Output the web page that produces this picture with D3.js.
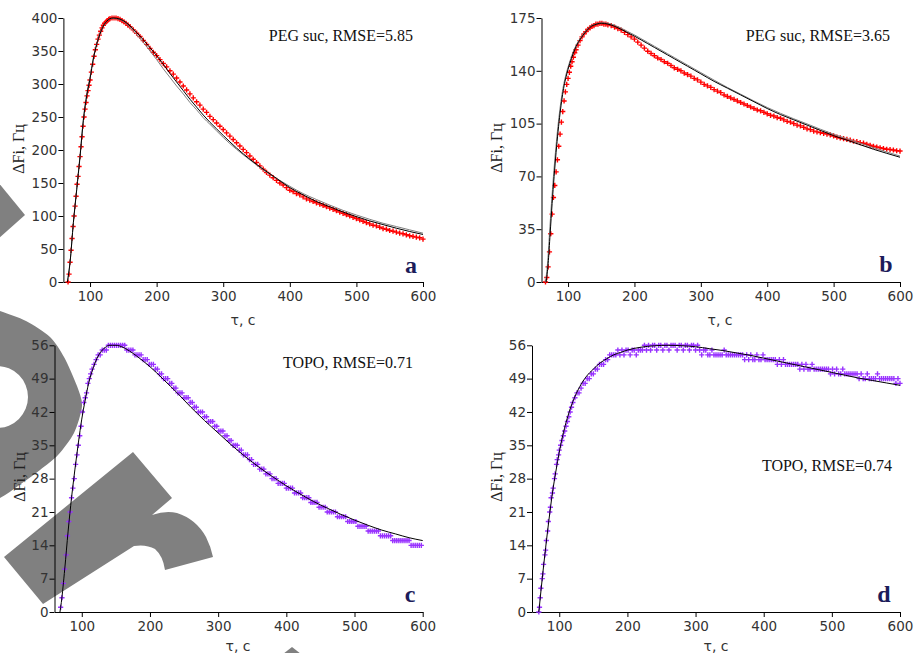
<!DOCTYPE html>
<html>
<head>
<meta charset="utf-8">
<script src="https://cdn.jsdelivr.net/npm/d3@7"></script>
<style>
  html, body { margin: 0; padding: 0; background: #fff; }
  svg { display: block; }
</style>
</head>
<body>
<svg id="chart" width="914" height="653"></svg>
<script>
// ---- tick values ----
const xTicks = [100, 200, 300, 400, 500, 600];
const yTicksA = [0, 50, 100, 150, 200, 250, 300, 350, 400];
const yTicksB = [0, 35, 70, 105, 140, 175];
const yTicksTopo = [0, 7, 14, 21, 28, 35, 42, 49, 56];

// ---- panel a: PEG suc, measured response [time s, ΔF Hz] ----
const measuredA = [
  [67,0],[68.5,12],[70,30],[71.5,48],[73,66],[74.5,84],[76,100],[77.5,115],[79,130],[80.5,148],
  [82,160],[83.5,175],[85,190],[86.5,205],[88,220],[89.5,236],[91,250],[92.5,262],[94,272],[95.5,282],
  [97,290],[98.5,298],[100,306],[102,318],[104,330],[106,342],[108,352],[110,360],[112,368],[114,374],
  [116,380],[118,385],[120,389],[122,392],[124,394],[126,396],[128,398],[130,399],[133,400],[136,400],
  [139,400],[142,399],[145,398],[148,396],[151,394],[154,392],[157,389],[160,387],[165,382],[170,377],
  [175,372],[180,366],[185,360],[190,354],[195,348],[200,343],[205,337],[210,331],[215,326],[220,320],
  [225,315],[230,309],[235,303],[240,297],[245,291],[250,285],[255,279],[260,273],[265,268],[270,262],
  [275,257],[280,251],[285,246],[290,241],[295,236],[300,231],[305,226],[310,221],[315,216],[320,211],
  [325,206],[330,201],[335,196],[340,191],[345,186],[350,181],[355,176],[360,171],[365,166],[370,162],
  [375,158],[380,154],[385,150],[390,147],[395,143],[400,139],[405,137],[410,134],[415,132],[420,129],
  [425,126],[430,124],[435,122],[440,120],[445,118],[450,116],[455,114],[460,112],[465,110],[470,108],
  [475,106],[480,104],[485,102],[490,100],[495,98],[500,96],[505,94],[510,92],[515,90],[520,88],
  [525,86],[530,85],[535,83],[540,81],[545,80],[550,78],[555,77],[560,75.5],[565,74],[570,73],
  [575,71.5],[580,70],[585,69],[590,68],[595,67],[600,65]
];
const fitA = [
  [66,0],[70,30],[75,90],[80,140],[85,190],[90,245],[95,282],[100,308],[105,338],[110,360],
  [115,376],[120,388],[125,395],[130,399],[135,400],[140,399.5],[150,396],[160,388],[170,378],[180,367],
  [190,355],[200,343],[210,330],[220,316],[230,303],[240,290],[250,277],[260,265],[270,253],[280,242],
  [290,232],[300,222],[320,203],[340,186],[360,171],[380,157],[400,143],[420,132],[440,122],[460,114],
  [480,106],[500,99],[520,92.5],[540,87],[560,81.5],[580,76.5],[600,72]
];
const fitGrayA = [
  [66,0],[70,30],[75,90],[80,141],[85,192],[90,247],[95,285],[100,311],[105,340],[110,361],
  [115,377],[120,388],[125,395],[130,398.5],[135,399.5],[140,399],[150,395],[160,386],[170,375],[180,363],
  [190,350],[200,337],[210,323],[220,310],[230,297],[240,285],[250,272],[260,261],[270,249],[280,239],
  [290,229],[300,219],[320,201],[340,185],[360,170],[380,157],[400,145],[420,134],[440,125],[460,116.5],
  [480,108.5],[500,101.5],[520,95],[540,89],[560,84],[580,79],[600,74]
];

// ---- panel b: PEG suc ----
const measuredB = [
  [66,0],[68,3],[70,10],[72,20],[74,32],[76,45],[78,56],[80,64],[82,73],[84,81],
  [86,90],[88,98],[90,106],[92,113],[94,120],[96,126],[98,131],[100,135],[102,139],[104,143],
  [106,146],[108,149],[110,152],[112,154],[115,157],[118,160],[121,162.5],[124,164.5],[127,166],[130,167.5],
  [133,168.5],[136,169.5],[139,170],[142,171],[145,171],[148,171.5],[151,171.5],[154,171],[157,171],[160,170.5],
  [165,170],[170,169],[175,168],[180,167],[185,165.5],[190,164],[195,162.5],[200,161],[205,159],[210,157],
  [215,155],[220,153],[225,151.5],[230,150],[235,148.5],[240,147.5],[245,146],[250,145],[255,143.5],[260,142],
  [265,141],[270,140],[275,138.5],[280,137.5],[285,136.5],[290,135],[295,134],[300,132.5],[305,131],[310,130],
  [315,129],[320,127.5],[325,126.5],[330,125.5],[335,124],[340,123],[345,122],[350,121],[355,120],[360,119],
  [365,118],[370,117],[375,116],[380,115],[385,114],[390,113.5],[395,112.5],[400,111.5],[405,110.5],[410,110],
  [415,109],[420,108.5],[425,107.5],[430,106.5],[435,106],[440,105],[445,104],[450,103.5],[455,102.5],[460,101.5],
  [465,101],[470,100],[475,99.5],[480,99],[485,98.5],[490,98],[495,97.5],[500,96.8],[505,96],[510,95.5],
  [515,95],[520,94.5],[525,94],[530,93.3],[535,93],[540,92.4],[545,92],[550,91.3],[555,90.6],[560,90],
  [565,89.5],[570,89],[575,88.5],[580,88],[585,87.8],[590,87.5],[595,87],[600,86.8]
];
const fitB = [
  [67,0],[70,12],[73,32],[76,52],[79,70],[82,86],[85,100],[88,112],[91,122],[94,130],
  [97,136],[100,141],[105,148],[110,154],[115,158.5],[120,162],[125,165],[130,167.5],[135,169.5],[140,170.5],
  [145,171.2],[150,171.5],[160,171],[170,169.5],[180,167.5],[190,165.2],[200,163],[210,160.5],[220,158],[230,155.5],
  [240,153],[250,150.5],[260,148],[270,145.5],[280,143],[290,140.5],[300,138],[320,133],[340,128.5],[360,124],
  [380,119.5],[400,115],[420,111],[440,107.5],[460,104],[480,100.5],[500,97],[520,94],[540,91],[560,88],
  [580,85.3],[600,82.7]
];
const fitGrayB = [
  [66,0],[69,12],[72,32],[75,52],[78,70],[81,86],[84,100],[87,112],[90,122],[93,130],
  [96,136],[99,141],[104,148],[109,154],[114,158.5],[119,162],[124,165],[129,167.5],[134,169.5],[139,170.5],
  [144,171.2],[150,171.8],[160,171.5],[170,170.2],[180,168.3],[190,166],[200,163.8],[210,161.3],[220,158.8],[230,156.3],
  [240,153.8],[250,151.3],[260,148.8],[270,146.3],[280,143.8],[290,141.3],[300,138.8],[320,133.8],[340,129],[360,124.5],
  [380,120],[400,115.7],[420,111.8],[440,108.2],[460,104.8],[480,101.3],[500,98],[520,95],[540,92],[560,89],
  [580,86.2],[600,83.5]
];

// ---- panel c: TOPO ----
const measuredC = [
  [69,1],[71,3],[73,6],[75,9],[77,12],[79,16],[81,19],[83,21],[85,24],[87,26],
  [89,28],[91,31],[93,33],[95,35],[97,37],[99,39],[101,42],[103,44],[105,45],[107,46],
  [109,48],[111,49],[113,50],[115,51],[118,52],[121,53],[124,54],[127,54],[130,55],[133,55],
  [136,55],[139,56],[142,56],[145,56],[148,56],[151,56],[154,56],[157,56],[160,56],[163,56],
  [166,55],[169,55],[172,55],[175,55],[178,54],[181,54],[184,54],[187,54],[190,53],[193,53],
  [196,53],[199,52],[202,52],[205,52],[208,51],[211,51],[214,50],[217,50],[220,49],[223,49],
  [226,49],[229,48],[232,48],[235,47],[238,47],[241,46],[244,46],[247,46],[250,45],[253,45],
  [256,45],[259,44],[262,44],[265,43],[268,43],[271,42],[274,42],[277,42],[280,41],[283,41],
  [286,40],[289,40],[292,40],[295,39],[298,39],[301,38],[304,38],[307,38],[310,37],[313,37],
  [316,36],[319,36],[322,35],[325,35],[328,35],[331,34],[334,34],[337,33],[340,33],[343,33],
  [346,32],[349,32],[352,31],[355,31],[358,31],[361,30],[364,30],[367,30],[370,29],[373,29],
  [376,29],[379,28],[382,28],[385,28],[388,27],[391,27],[394,27],[397,27],[400,26],[403,26],
  [406,26],[409,26],[412,25],[415,25],[418,25],[421,25],[424,24],[427,24],[430,24],[433,24],
  [436,23],[439,23],[442,23],[445,23],[448,22],[451,22],[454,22],[457,22],[460,21],[463,21],
  [466,21],[469,21],[472,21],[475,20],[478,20],[481,20],[484,20],[487,20],[490,19],[493,19],
  [496,19],[499,19],[502,19],[505,18],[508,18],[511,18],[514,18],[517,18],[520,17],[523,17],
  [526,17],[529,17],[532,17],[535,17],[538,16],[541,16],[544,16],[547,16],[550,16],[553,16],
  [556,15],[559,15],[562,15],[565,15],[568,15],[571,15],[574,15],[577,15],[580,15],[583,14],
  [586,14],[589,14],[592,14],[595,14],[598,14]
];
const fitC = [
  [68,0],[70,2],[75,9],[80,17],[85,24],[90,30],[95,35.5],[100,40.5],[105,44.5],[110,48],
  [115,50.5],[120,52.5],[125,54],[130,55],[135,55.6],[140,56],[145,56],[150,56],[160,55.6],[170,54.8],
  [180,53.8],[190,52.7],[200,51.5],[210,50.2],[220,48.8],[230,47.4],[240,46],[250,44.5],[260,43],[270,41.6],
  [280,40.2],[290,38.9],[300,37.6],[320,35],[340,32.6],[360,30.4],[380,28.4],[400,26.5],[420,24.8],[440,23.2],
  [460,21.8],[480,20.5],[500,19.3],[520,18.2],[540,17.2],[560,16.4],[580,15.6],[600,15]
];

// ---- panel d: TOPO ----
const measuredD = [
  [70,0],[71,1],[72,3],[73,5],[75,7],[76,8],[77,10],[79,12],[80,13],[81,15],
  [83,17],[84,19],[86,21],[87,22],[88,24],[90,25],[91,26],[93,28],[94,29],[96,31],
  [97,32],[99,33],[100,34],[102,35],[104,36],[106,37],[108,38],[110,39],[112,40],[114,41],
  [116,42],[118,43],[120,44],[123,45],[126,46],[129,46],[132,47],[135,48],[138,48],[141,49],
  [144,49],[147,50],[150,50],[153,51],[156,51],[159,52],[162,52],[165,52],[168,53],[171,53],
  [174,54],[177,54],[180,54],[183,54],[186,55],[189,54],[192,55],[195,54],[198,55],[201,55],
  [204,54],[207,55],[210,55],[213,54],[216,55],[219,55],[222,55],[225,56],[228,55],[231,56],
  [234,55],[237,56],[240,56],[243,55],[246,56],[249,56],[252,55],[255,56],[258,56],[261,55],
  [264,56],[267,56],[270,56],[273,55],[276,56],[279,56],[282,55],[285,56],[288,56],[291,55],
  [294,56],[297,56],[300,55],[303,56],[306,55],[309,54],[312,55],[315,55],[318,54],[321,54],
  [324,55],[327,54],[330,54],[333,54],[336,54],[339,54],[342,55],[345,54],[348,54],[351,54],
  [354,54],[357,54],[360,54],[363,54],[366,54],[369,54],[372,53],[375,54],[378,53],[381,54],
  [384,53],[387,53],[390,54],[393,53],[396,53],[399,54],[402,53],[405,53],[408,53],[411,53],
  [414,53],[417,53],[420,52],[423,53],[426,52],[429,53],[432,52],[435,52],[438,52],[441,52],
  [444,52],[447,52],[450,52],[453,51],[456,52],[459,51],[462,52],[465,51],[468,51],[471,52],
  [474,51],[477,51],[480,51],[483,51],[486,51],[489,51],[492,51],[495,51],[498,50],[501,51],
  [504,50],[507,51],[510,50],[513,50],[516,51],[519,50],[522,50],[525,50],[528,50],[531,50],
  [534,50],[537,50],[540,49],[543,50],[546,49],[549,49],[552,50],[555,49],[558,49],[561,49],
  [564,49],[567,50],[570,49],[573,49],[576,49],[579,49],[582,49],[585,49],[588,49],[591,49],
  [594,48],[597,49],[600,48]
];
const fitD = [
  [70,0],[75,7],[80,13.5],[85,19.5],[90,25],[95,29.5],[100,33.5],[105,37],[110,39.8],[115,42.2],
  [120,44.2],[130,47.3],[140,49.5],[150,51],[160,52.3],[170,53.2],[180,54],[190,54.5],[200,55],[220,55.6],
  [240,55.9],[260,56],[280,55.9],[300,55.7],[320,55.3],[340,54.9],[360,54.4],[380,53.9],[400,53.3],[420,52.7],
  [440,52.1],[460,51.5],[480,50.9],[500,50.3],[520,49.7],[540,49.1],[560,48.6],[580,48.1],[600,47.6]
];

// ---- panel layout (pixel frames) and styling ----
const panels = [
  { letter: "a", note: "PEG suc, RMSE=5.85", measured: measuredA, fits: [fitGrayA, fitA], yMax: 400, yTicks: yTicksA,
    color: "#ff0000", left: 63.4, right: 423, top: 18, bottom: 282,
    noteX: 413, noteY: 41, letterX: 411, letterY: 273, yTitleX: 24, yTitleY: 149, xTitleX: 243, xTitleY: 325 },
  { letter: "b", note: "PEG suc, RMSE=3.65", measured: measuredB, fits: [fitGrayB, fitB], yMax: 175, yTicks: yTicksB,
    color: "#ff0000", left: 541.5, right: 900, top: 18, bottom: 282,
    noteX: 890, noteY: 41, letterX: 886, letterY: 272, yTitleX: 502, yTitleY: 148, xTitleX: 720, xTitleY: 325 },
  { letter: "c", note: "TOPO, RMSE=0.71", measured: measuredC, fits: [fitC], yMax: 56, yTicks: yTicksTopo,
    color: "#9933ff", left: 54.5, right: 422.7, top: 345.3, bottom: 612,
    noteX: 413, noteY: 368, letterX: 410, letterY: 602, yTitleX: 25, yTitleY: 477, xTitleX: 238, xTitleY: 651 },
  { letter: "d", note: "TOPO, RMSE=0.74", measured: measuredD, fits: [fitD], yMax: 56, yTicks: yTicksTopo,
    color: "#9933ff", left: 532, right: 900, top: 345.3, bottom: 612,
    noteX: 892, noteY: 471, letterX: 884, letterY: 602, yTitleX: 502, yTitleY: 477, xTitleX: 716, xTitleY: 651 }
];

const svg = d3.select("#chart");
svg.append("rect").attr("width", 914).attr("height", 653).attr("fill", "#fff");

// ---- grey background emblem on the left edge ----
const emblem = svg.append("g").attr("fill", "#808080").attr("stroke", "none");
emblem.append("path").attr("d", "M-2,182 L25,215 L-2,239 Z");
const ringOuter = [[-30,300],[0,311],[26,321],[50,337],[64,357],[77,386],[82,406],[74,433],[58,455],[40,470],[18,486],[0,498],[-30,510],[-50,405]];
const ringPath = d3.line().curve(d3.curveCardinalClosed.tension(0.2))(ringOuter);
const hole = d3.path();
hole.moveTo(28, 397);
hole.arc(-3, 397, 31, 0, Math.PI * 2);
emblem.append("path").attr("fill-rule", "evenodd").attr("d", ringPath + " " + hole.toString());
emblem.append("path").attr("d",
  "M4,557 L133,452 L172,498 L152,515 Q166,510 177,513 Q196,519 206,537 Q211,547 213,557 L165,570 Q163,556 155,549 Q146,544 134,546 L43,604 Z");
emblem.append("path").attr("d", "M283,654 L292,647 L301,654 Z");

// "+" marker
const plus = "M-2.6,0H2.6M0,-2.6V2.6";

panels.forEach(p => {
  const x = d3.scaleLinear().domain([60, 600]).range([p.left, p.right]);
  const y = d3.scaleLinear().domain([0, p.yMax]).range([p.bottom, p.top]);
  const g = svg.append("g");

  // axes
  const gx = g.append("g").attr("transform", `translate(0,${p.bottom})`)
    .call(d3.axisBottom(x).tickValues(xTicks).tickSize(5).tickSizeOuter(0).tickPadding(4));
  const gy = g.append("g").attr("transform", `translate(${p.left},0)`)
    .call(d3.axisLeft(y).tickValues(p.yTicks).tickSize(5).tickSizeOuter(0).tickPadding(1));
  [gx, gy].forEach(a => {
    a.attr("font-family", "'DejaVu Sans', Verdana, sans-serif").attr("font-size", 13.5);
    a.selectAll("text").attr("fill", "#333");
    a.selectAll("line, path").attr("stroke", "#000").attr("stroke-width", 1);
  });

  // measured points
  g.append("g")
    .attr("stroke", p.color).attr("stroke-width", 1.4).attr("fill", "none")
    .selectAll("path").data(p.measured).join("path")
    .attr("d", plus)
    .attr("transform", d => `translate(${x(d[0])},${y(d[1])})`);

  // fitted curves (grey under black)
  const line = d3.line().x(d => x(d[0])).y(d => y(d[1])).curve(d3.curveMonotoneX);
  p.fits.forEach((f, i) => {
    const isLast = i === p.fits.length - 1;
    g.append("path").datum(f)
      .attr("d", line)
      .attr("fill", "none")
      .attr("stroke", isLast ? "#000" : "#808080")
      .attr("stroke-width", 1);
  });

  // titles and notes
  g.append("text")
    .attr("transform", `translate(${p.yTitleX},${p.yTitleY}) rotate(-90)`)
    .attr("text-anchor", "middle")
    .attr("font-family", "'Liberation Serif', 'Times New Roman', serif")
    .attr("font-size", 16).attr("fill", "#222")
    .text("ΔFi, Гц");
  g.append("text")
    .attr("x", p.xTitleX).attr("y", p.xTitleY)
    .attr("text-anchor", "middle")
    .attr("font-family", "'DejaVu Sans', Verdana, sans-serif")
    .attr("font-size", 14).attr("fill", "#333")
    .text("τ, с");
  g.append("text")
    .attr("x", p.noteX).attr("y", p.noteY)
    .attr("text-anchor", "end")
    .attr("font-family", "'Liberation Serif', 'Times New Roman', serif")
    .attr("font-size", 16).attr("fill", "#111")
    .text(p.note);
  g.append("text")
    .attr("x", p.letterX).attr("y", p.letterY)
    .attr("text-anchor", "middle")
    .attr("font-family", "'Liberation Serif', 'Times New Roman', serif")
    .attr("font-weight", "bold")
    .attr("font-size", 24).attr("fill", "#1c1c5a")
    .text(p.letter);
});
</script>
</body>
</html>
